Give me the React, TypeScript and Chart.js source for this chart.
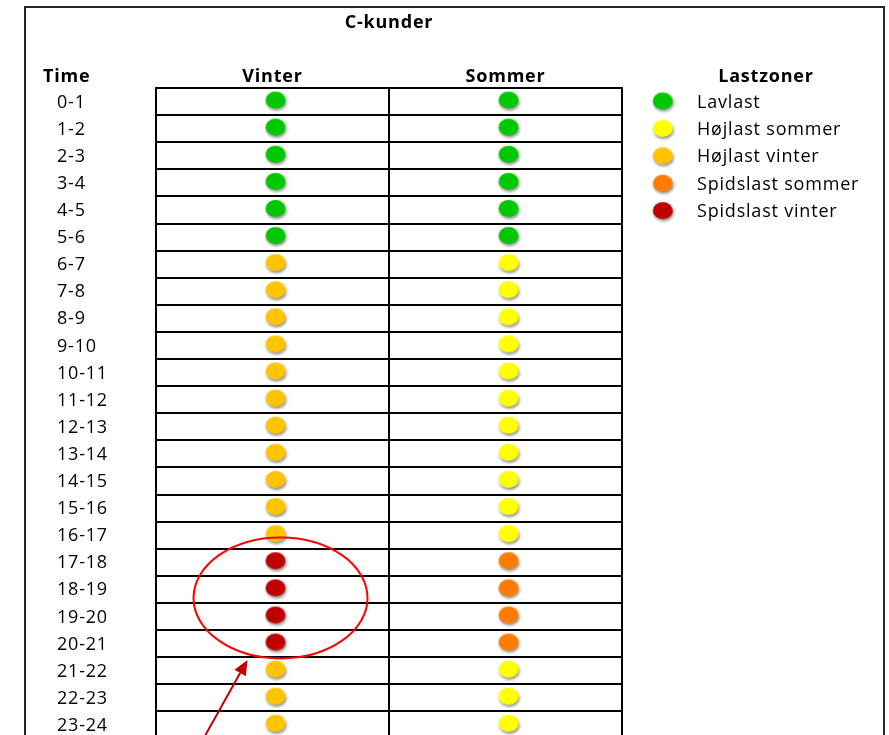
import React, { useEffect, useRef } from 'react';
import { Chart, registerables } from 'chart.js';

Chart.register(...registerables);

const chartTitle = 'C-kunder';
const rowHeader = 'Time';
const legendTitle = 'Lastzoner';
const seasons = ['Vinter', 'Sommer'];
const hours = [
  '0-1', '1-2', '2-3', '3-4', '4-5', '5-6', '6-7', '7-8', '8-9', '9-10', '10-11', '11-12',
  '12-13', '13-14', '14-15', '15-16', '16-17', '17-18', '18-19', '19-20', '20-21', '21-22', '22-23', '23-24',
];
const zones = ['Lavlast', 'Højlast sommer', 'Højlast vinter', 'Spidslast sommer', 'Spidslast vinter'];
const zoneColors = ['#00C800', '#FFFF00', '#FFC400', '#FF7C00', '#C00000'];
const vinter = [
  'Lavlast', 'Lavlast', 'Lavlast', 'Lavlast', 'Lavlast', 'Lavlast',
  'Højlast vinter', 'Højlast vinter', 'Højlast vinter', 'Højlast vinter', 'Højlast vinter', 'Højlast vinter',
  'Højlast vinter', 'Højlast vinter', 'Højlast vinter', 'Højlast vinter', 'Højlast vinter',
  'Spidslast vinter', 'Spidslast vinter', 'Spidslast vinter', 'Spidslast vinter',
  'Højlast vinter', 'Højlast vinter', 'Højlast vinter',
];
const sommer = [
  'Lavlast', 'Lavlast', 'Lavlast', 'Lavlast', 'Lavlast', 'Lavlast',
  'Højlast sommer', 'Højlast sommer', 'Højlast sommer', 'Højlast sommer', 'Højlast sommer', 'Højlast sommer',
  'Højlast sommer', 'Højlast sommer', 'Højlast sommer', 'Højlast sommer', 'Højlast sommer',
  'Spidslast sommer', 'Spidslast sommer', 'Spidslast sommer', 'Spidslast sommer',
  'Højlast sommer', 'Højlast sommer', 'Højlast sommer',
];
const highlightZone = 'Spidslast vinter';

const FONT = "'Open Sans', 'DejaVu Sans', sans-serif";
const LETTER = '0.8px';

function makeDot(color: string): HTMLCanvasElement {
  const c = document.createElement('canvas');
  c.width = 32;
  c.height = 30;
  const g = c.getContext('2d')!;
  g.shadowColor = 'rgba(0,0,0,0.45)';
  g.shadowBlur = 3;
  g.shadowOffsetX = 1;
  g.shadowOffsetY = 2;
  g.fillStyle = color;
  g.beginPath();
  g.ellipse(19, 13.5, 10, 8.5, 0, 0, Math.PI * 2);
  g.fill();
  return c;
}

const decorPlugin = {
  id: 'decor',
  beforeUpdate(chart: any) {
    chart.ctx.letterSpacing = LETTER;
  },
  beforeDraw(chart: any) {
    chart.ctx.letterSpacing = LETTER;
  },
  afterDraw(chart: any) {
    const { ctx, chartArea, scales } = chart;
    const xs = scales.x;
    const ys = scales.y;
    ctx.save();
    ctx.letterSpacing = LETTER;
    // outer frame
    ctx.strokeStyle = '#262626';
    ctx.lineWidth = 2;
    ctx.beginPath();
    ctx.moveTo(25, chart.height);
    ctx.lineTo(25, 7);
    ctx.lineTo(884, 7);
    ctx.lineTo(884, chart.height);
    ctx.stroke();
    // headers
    const headY = chartArea.top - 11.5;
    ctx.fillStyle = '#000';
    ctx.font = `bold 18px ${FONT}`;
    ctx.textBaseline = 'middle';
    ctx.textAlign = 'left';
    ctx.fillText(rowHeader, 43, headY);
    ctx.textAlign = 'center';
    ctx.fillText(legendTitle, chartArea.right + 144, headY);
    // highlight ellipse
    const first = vinter.indexOf(highlightZone);
    const last = vinter.lastIndexOf(highlightZone);
    const cx = xs.getPixelForValue(0) + 8;
    const cy = (ys.getPixelForValue(first) + ys.getPixelForValue(last)) / 2 - 5;
    ctx.strokeStyle = '#FF0000';
    ctx.lineWidth = 2;
    ctx.beginPath();
    ctx.ellipse(cx, cy, 87, 60.5, 0, 0, Math.PI * 2);
    ctx.stroke();
    // arrow
    const tipX = cx - 33;
    const tipY = cy + 62;
    const dx = 42, dy = -75;
    const len = Math.hypot(dx, dy);
    const ux = dx / len, uy = dy / len;
    const headLen = 15, headW = 6.5;
    const baseX = tipX - ux * headLen, baseY = tipY - uy * headLen;
    ctx.strokeStyle = '#C00000';
    ctx.fillStyle = '#C00000';
    ctx.lineWidth = 2;
    ctx.beginPath();
    ctx.moveTo(tipX - ux * 140, tipY - uy * 140);
    ctx.lineTo(baseX, baseY);
    ctx.stroke();
    ctx.beginPath();
    ctx.moveTo(tipX, tipY);
    ctx.lineTo(baseX - uy * headW, baseY + ux * headW);
    ctx.lineTo(baseX + uy * headW, baseY - ux * headW);
    ctx.closePath();
    ctx.fill();
    ctx.restore();
  },
};

export default function App() {
  const ref = useRef<HTMLCanvasElement>(null);

  useEffect(() => {
    const canvas = ref.current!;
    const datasets = zones.map((z, zi) => ({
      label: z,
      data: [
        ...hours.flatMap((h, i) => (vinter[i] === z ? [{ x: seasons[0], y: h }] : [])),
        ...hours.flatMap((h, i) => (sommer[i] === z ? [{ x: seasons[1], y: h }] : [])),
      ],
      pointStyle: makeDot(zoneColors[zi]),
      pointRadius: 8,
      backgroundColor: zoneColors[zi],
      borderColor: zoneColors[zi],
    }));

    const chart = new Chart(canvas, {
      type: 'scatter',
      data: { datasets },
      plugins: [decorPlugin],
      options: {
        animation: false,
        responsive: false,
        devicePixelRatio: 1,
        events: [],
        layout: { padding: { left: 57, top: 8, right: 10, bottom: 21.6 } },
        scales: {
          x: {
            type: 'category',
            labels: seasons,
            position: 'top',
            offset: true,
            grid: { offset: true, color: '#000', lineWidth: 2, drawTicks: false },
            border: { display: true, color: '#000', width: 2 },
            ticks: { color: '#000', padding: 0.7, font: { family: FONT, size: 18, weight: 'bold' } },
            afterFit: (s: any) => {
              s.height = 54.4;
            },
          },
          y: {
            type: 'category',
            labels: hours,
            offset: true,
            grid: { offset: true, color: '#000', lineWidth: 2, drawTicks: false },
            border: { display: true, color: '#000', width: 2 },
            ticks: {
              color: '#000',
              crossAlign: 'far',
              autoSkip: false,
              padding: 0,
              labelOffset: 1,
              font: { family: FONT, size: 18 },
            },
            afterFit: (s: any) => {
              s.width = 99;
            },
          },
        },
        plugins: {
          tooltip: { enabled: false },
          title: {
            display: true,
            text: chartTitle,
            fullSize: false,
            color: '#000',
            font: { family: FONT, size: 18, weight: 'bold', lineHeight: 1.2 },
            padding: { top: 4, bottom: 0 },
          },
          legend: {
            display: true,
            position: 'right',
            align: 'start',
            maxWidth: 400,
            title: {
              display: true,
              text: ' ',
              font: { family: FONT, size: 18, weight: 'bold', lineHeight: 1.2 },
              padding: { top: 58, bottom: -3.5 },
            },
            labels: {
              usePointStyle: true,
              pointStyleWidth: 56.6,
              padding: 9.4,
              color: '#000',
              font: { family: FONT, size: 18 },
            },
          },
        },
      } as any,
    });

    for (let k = 0; k < 3; k++) {
      const diff = chart.chartArea.right - 622;
      if (Math.abs(diff) < 0.2) break;
      (chart.options as any).layout.padding.right += diff;
      chart.update();
    }

    return () => chart.destroy();
  }, []);

  return (
    <div
      style={{
        position: 'fixed',
        left: 0,
        top: 0,
        width: 889,
        height: 735,
        overflow: 'hidden',
        background: '#fff',
      }}
    >
      <canvas ref={ref} width={889} height={760} style={{ display: 'block', width: 889, height: 760 }} />
    </div>
  );
}
